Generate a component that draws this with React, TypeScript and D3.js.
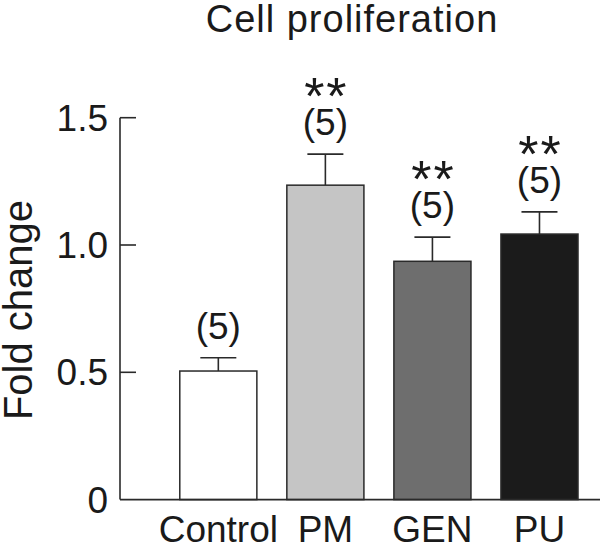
import React from "react";
import * as d3 from "d3";

const categories = ["Control", "PM", "GEN", "PU"];
const means = [0.505, 1.235, 0.936, 1.043];
const errors = [0.052, 0.122, 0.095, 0.087];
const nLabels = ["(5)", "(5)", "(5)", "(5)"];
const stars = ["", "**", "**", "**"];
const fills = ["#ffffff", "#c5c5c5", "#6e6e6e", "#1b1b1b"];
const yTicks = [0, 0.5, 1.0, 1.5];
const yTickLabels = ["0", "0.5", "1.0", "1.5"];
const title = "Cell proliferation";
const yLabel = "Fold change";

const W = 600;
const H = 543;
const FONT = "'Liberation Sans', Arial, Helvetica, sans-serif";
const INK = "#1a1a1a";
const LINE = "#2a2a2a";

export default function App() {
  const axisX = 120;
  const y = d3.scaleLinear().domain([0, 1.5]).range([499.6, 117.7]);
  const x = d3
    .scaleBand<string>()
    .domain(categories)
    .range([164.8, 593])
    .paddingInner(0.28)
    .paddingOuter(0.14);
  const capW = 36;

  return (
    <svg
      width={W}
      height={H}
      style={{ position: "absolute", left: 0, top: 0, background: "#fff" }}
      fontFamily={FONT}
    >
      <text x={352} y={32} textAnchor="middle" fontSize={38} fill={INK} letterSpacing={1}>
        {title}
      </text>
      <text
        transform={`translate(32,${310}) rotate(-90)`}
        textAnchor="middle"
        fontSize={40}
        fill={INK}
      >
        {yLabel}
      </text>

      {/* bars */}
      {categories.map((c, i) => {
        const bx = x(c)!;
        const bw = x.bandwidth();
        const cx = bx + bw / 2;
        const top = y(means[i]);
        const capY = y(means[i] + errors[i]);
        const nBase = capY - 19;
        return (
          <g key={c}>
            <line x1={cx} x2={cx} y1={top} y2={capY} stroke={LINE} strokeWidth={1.6} />
            <line x1={cx - capW / 2} x2={cx + capW / 2} y1={capY} y2={capY} stroke={LINE} strokeWidth={1.6} />
            <rect x={bx} y={top} width={bw} height={y(0) - top} fill={fills[i]} stroke={LINE} strokeWidth={1.5} />
            <text x={cx} y={nBase} textAnchor="middle" fontSize={37} fill={INK}>
              {nLabels[i]}
            </text>
            {stars[i] && (
              <text x={cx + 1} y={nBase - 21} textAnchor="middle" fontSize={52} fill={INK} letterSpacing={2}>
                {stars[i]}
              </text>
            )}
            <text x={cx} y={541.5} textAnchor="middle" fontSize={37} fill={INK}>
              {c}
            </text>
          </g>
        );
      })}

      {/* axes */}
      <line x1={axisX} x2={axisX} y1={y(1.5)} y2={y(0)} stroke={LINE} strokeWidth={1.6} />
      <line x1={axisX} x2={W} y1={y(0)} y2={y(0)} stroke={LINE} strokeWidth={1.6} />
      {yTicks.map((t, i) => (
        <g key={t}>
          {t > 0 && (
            <line x1={axisX} x2={axisX + 16} y1={y(t)} y2={y(t)} stroke={LINE} strokeWidth={1.6} />
          )}
          <text x={108} y={y(t) + 13} textAnchor="end" fontSize={37} fill={INK}>
            {yTickLabels[i]}
          </text>
        </g>
      ))}
    </svg>
  );
}
